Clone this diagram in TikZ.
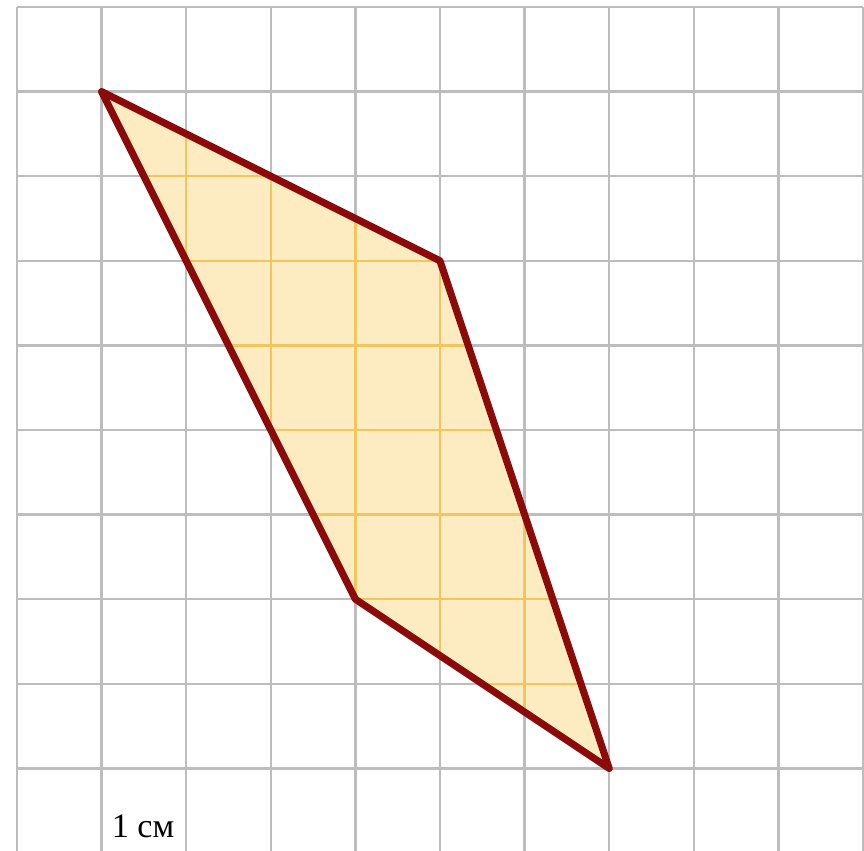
\documentclass[tikz,border=0pt]{standalone}
\usepackage{fontspec}
\setmainfont{Liberation Serif}
\usepackage{tikz}
\usetikzlibrary{positioning}
\usepackage{xcolor}
\definecolor{gridGray}{HTML}{BDBDBD}
\definecolor{shapeFill}{HTML}{FDEBC2}
\definecolor{shapeGold}{HTML}{F2C65E}
\definecolor{edgeRed}{HTML}{8B0A0A}

\begin{document}
\begin{tikzpicture}[
    gridline/.style={draw=gridGray, line width=0.8pt},
    innerline/.style={draw=shapeGold, line width=0.8pt},
    edge/.style={draw=edgeRed, line width=2.4pt, line join=round},
    unitlabel/.style={font=\fontsize{11.5}{13}\selectfont, inner sep=0pt},
]
    \useasboundingbox[fill=white] (-0.201,0.083) rectangle (10.012,-9.976);
    % squared paper
    \foreach \i in {0,...,10}
        \draw[gridline] (\i,0) -- (\i,-9.976);
    \foreach \j in {0,...,9}
        \draw[gridline] (0,-\j) -- (10,-\j);

    \coordinate (A) at (1,-1);
    \coordinate (B) at (5,-3);
    \coordinate (C) at (7,-9);
    \coordinate (D) at (4,-7);

    \fill[shapeFill] (A) -- (B) -- (C) -- (D) -- cycle;
    \begin{scope}
        \clip (A) -- (B) -- (C) -- (D) -- cycle;
        \foreach \i in {1,...,7}
            \draw[innerline] (\i,-1) -- (\i,-9);
        \foreach \j in {1,...,9}
            \draw[innerline] (1,-\j) -- (7,-\j);
    \end{scope}
    \draw[edge] (A) -- (B) -- (C) -- (D) -- cycle;

    \node[unitlabel] (unit) at (1.49,-9.69) {1 см};
\end{tikzpicture}
\end{document}
